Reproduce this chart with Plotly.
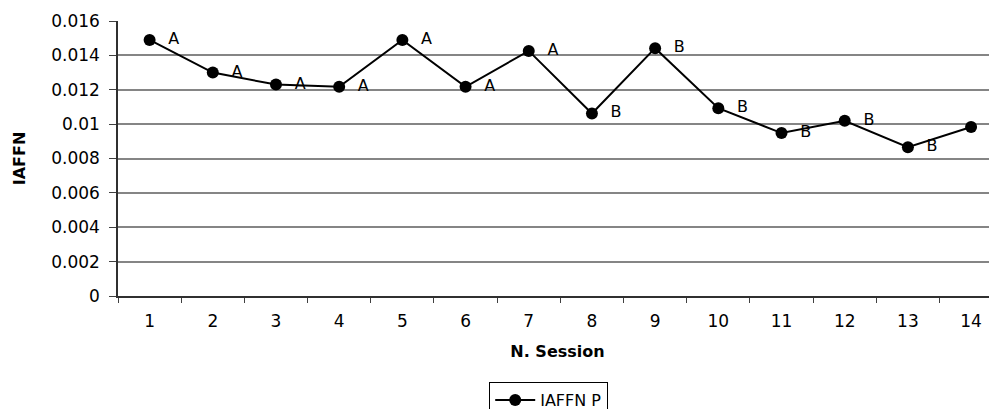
import plotly.graph_objects as go

sessions = ["1", "2", "3", "4", "5", "6", "7", "8", "9", "10", "11", "12", "13", "14"]
iaffn_p = [0.0149, 0.0130, 0.0123, 0.01217, 0.0149, 0.01217, 0.01426,
           0.01062, 0.01442, 0.01093, 0.00948, 0.01019, 0.00866, 0.00983]
groups = ["A", "A", "A", "A", "A", "A", "A", "B", "B", "B", "B", "B", "B", "B"]
y_ticks = [0, 0.002, 0.004, 0.006, 0.008, 0.01, 0.012, 0.014, 0.016]
y_tick_text = ["0", "0.002", "0.004", "0.006", "0.008", "0.01", "0.012", "0.014", "0.016"]

FONT = "DejaVu Sans, Liberation Sans, Arial, sans-serif"

fig = go.Figure()
fig.add_trace(go.Scatter(
    x=sessions, y=iaffn_p, name="IAFFN P",
    mode="lines+markers+text",
    text=["  " + g for g in groups],
    textposition="middle right",
    textfont=dict(family=FONT, size=16, color="black"),
    line=dict(color="black", width=2),
    marker=dict(color="black", size=12),
    cliponaxis=False,
))

# page body has an 8px default margin; figure sized so it ends at the window edge
fig.update_layout(
    width=989, height=401,
    margin=dict(l=110, r=0, t=13, b=113, autoexpand=False),
    paper_bgcolor="white", plot_bgcolor="white",
    font=dict(family=FONT, size=17, color="black"),
    showlegend=True,
    legend=dict(
        orientation="h", x=0.49, xanchor="center", y=-0.3127, yanchor="top",
        bordercolor="black", borderwidth=1, font=dict(size=16),
        itemwidth=40,
    ),
    xaxis=dict(
        type="category", range=[-0.5, 13.41],
        tickson="boundaries", ticks="outside", ticklen=5, tickcolor="#404040",
        ticklabelstandoff=9,
        showline=True, linecolor="#303030", linewidth=1.5,
        showgrid=False, automargin=False,
        title=dict(text="<b>N. Session</b>", standoff=16, font=dict(size=16)),
    ),
    yaxis=dict(
        range=[0, 0.016], tickvals=y_ticks, ticktext=y_tick_text,
        ticks="outside", ticklen=7, tickcolor="#404040",
        ticklabelstandoff=6,
        showline=True, linecolor="#303030", linewidth=1.5,
        showgrid=True, gridcolor="#858585", gridwidth=1.5,
        zeroline=False, automargin=False,
        title=dict(text="<b>IAFFN</b>", standoff=22, font=dict(size=16)),
    ),
)

fig.write_html("out.html")
